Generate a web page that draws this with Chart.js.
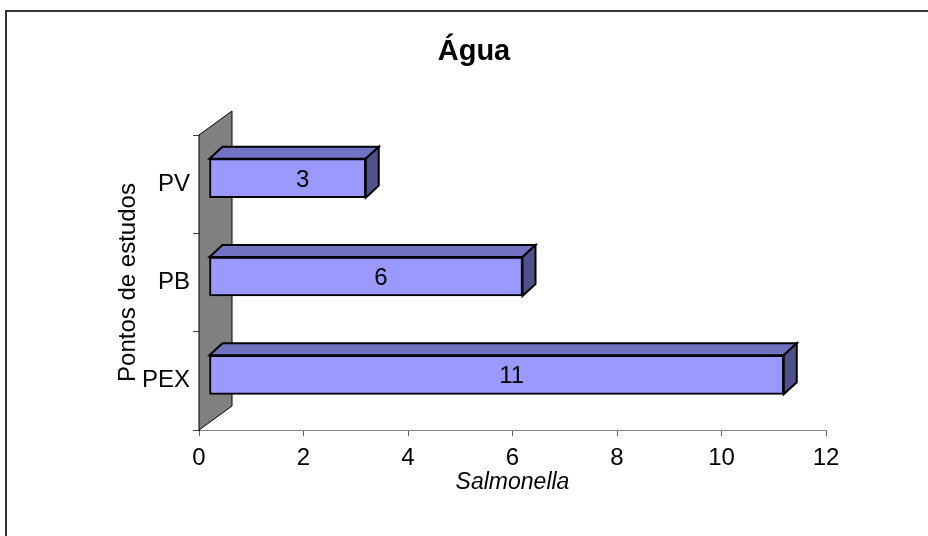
<!DOCTYPE html>
<html>
<head>
<meta charset="utf-8">
<script src="https://cdn.jsdelivr.net/npm/chart.js@4/dist/chart.umd.min.js"></script>
<style>
  html, body { margin: 0; padding: 0; background: #fff; }
  #wrap { width: 928px; height: 536px; }
</style>
</head>
<body>
<div id="wrap"><canvas id="chart" width="928" height="536"></canvas></div>
<script>
const CATEGORIES = ["PV", "PB", "PEX"];
const VALUES = [3, 6, 11];
const X_MIN = 0;
const X_MAX = 12;
const X_STEP = 2;
const TITLE = "Água";
const X_TITLE = "Salmonella";
const Y_TITLE = "Pontos de estudos";

const FONT = "'Liberation Sans', Arial, sans-serif";

// depth of the back wall and of the bars (Excel-like 3D look)
const WALL_DX = 33, WALL_DY = -24;
const BAR_DX = 13, BAR_DY = -12;
const BAR_SHIFT_X = 10, BAR_SHIFT_Y = -6;

function poly(ctx, pts, fill, stroke, lw) {
  ctx.beginPath();
  ctx.moveTo(pts[0][0], pts[0][1]);
  for (let i = 1; i < pts.length; i++) ctx.lineTo(pts[i][0], pts[i][1]);
  ctx.closePath();
  ctx.fillStyle = fill;
  ctx.fill();
  if (stroke) {
    ctx.strokeStyle = stroke;
    ctx.lineWidth = lw || 1;
    ctx.lineJoin = "miter";
    ctx.stroke();
  }
}

const frame3d = {
  id: "frame3d",
  beforeDraw(chart) {
    const { ctx } = chart;
    ctx.save();
    ctx.strokeStyle = "#333";
    ctx.lineWidth = 2;
    ctx.beginPath();
    ctx.moveTo(6, chart.height);
    ctx.lineTo(6, 11);
    ctx.lineTo(chart.width, 11);
    ctx.stroke();
    // title
    ctx.fillStyle = "#000";
    ctx.font = `bold 29px ${FONT}`;
    ctx.textAlign = "center";
    ctx.textBaseline = "alphabetic";
    ctx.fillText(TITLE, chart.width / 2 + 10, 60);
    ctx.restore();
  },
  beforeDatasetsDraw(chart) {
    const { ctx, chartArea: a } = chart;
    ctx.save();
    poly(ctx, [
      [a.left, a.top],
      [a.left + WALL_DX, a.top + WALL_DY],
      [a.left + WALL_DX, a.bottom + WALL_DY],
      [a.left, a.bottom],
    ], "#808080", "#000", 1);
    ctx.restore();
    ctx.save();
    ctx.translate(BAR_SHIFT_X, BAR_SHIFT_Y);
  },
  afterDatasetsDraw(chart) {
    const { ctx } = chart;
    ctx.restore();
    const meta = chart.getDatasetMeta(0);
    ctx.save();
    meta.data.forEach((bar, i) => {
      const p = bar.getProps(["x", "y", "base", "height"], true);
      const x0 = p.base + BAR_SHIFT_X;
      const x1 = p.x + BAR_SHIFT_X;
      const y0 = p.y - p.height / 2 + BAR_SHIFT_Y;
      const y1 = p.y + p.height / 2 + BAR_SHIFT_Y;
      poly(ctx, [[x0, y0], [x0 + BAR_DX, y0 + BAR_DY], [x1 + BAR_DX, y0 + BAR_DY], [x1, y0]],
        "#7272c2", "#000", 2);
      poly(ctx, [[x1, y0], [x1 + BAR_DX, y0 + BAR_DY], [x1 + BAR_DX, y1 + BAR_DY], [x1, y1]],
        "#50508a", "#000", 2);
      ctx.fillStyle = "#000";
      ctx.font = `24px ${FONT}`;
      ctx.textAlign = "center";
      ctx.textBaseline = "middle";
      ctx.fillText(String(VALUES[i]), (x0 + x1) / 2 + 15, (y0 + y1) / 2 + 2);
    });
    ctx.restore();
  },
};

new Chart(document.getElementById("chart"), {
  type: "bar",
  data: {
    labels: CATEGORIES,
    datasets: [{
      data: VALUES,
      backgroundColor: "#9999ff",
      borderColor: "#000",
      borderWidth: 2,
      borderSkipped: false,
      barThickness: 39,
    }],
  },
  options: {
    indexAxis: "y",
    responsive: false,
    animation: false,
    layout: { padding: { left: 0, right: 102, top: 135, bottom: 0 } },
    plugins: {
      legend: { display: false },
      tooltip: { enabled: false },
      title: { display: false },
    },
    scales: {
      x: {
        min: X_MIN,
        max: X_MAX,
        ticks: { stepSize: X_STEP, color: "#000", font: { family: FONT, size: 24 }, padding: 8 },
        grid: { drawOnChartArea: false, drawTicks: true, tickLength: 6, color: "#606060" },
        border: { display: true, color: "#808080", width: 1 },
        title: {
          display: true, text: X_TITLE, color: "#000",
          font: { family: FONT, size: 23, style: "italic" },
          padding: { top: 0, bottom: 40 },
        },
        afterFit(scale) { scale.height = 106; },
      },
      y: {
        ticks: { color: "#000", font: { family: FONT, size: 24 }, padding: 3 },
        grid: { drawOnChartArea: false, drawTicks: true, tickLength: 6, color: "#404040", offset: true },
        border: { display: true, color: "#000", width: 1 },
        title: {
          display: true, text: Y_TITLE, color: "#000",
          font: { family: FONT, size: 24 },
          padding: { top: 114, bottom: 0 },
        },
        afterFit(scale) { scale.width = 199; },
      },
    },
  },
  plugins: [frame3d],
});
</script>
</body>
</html>
